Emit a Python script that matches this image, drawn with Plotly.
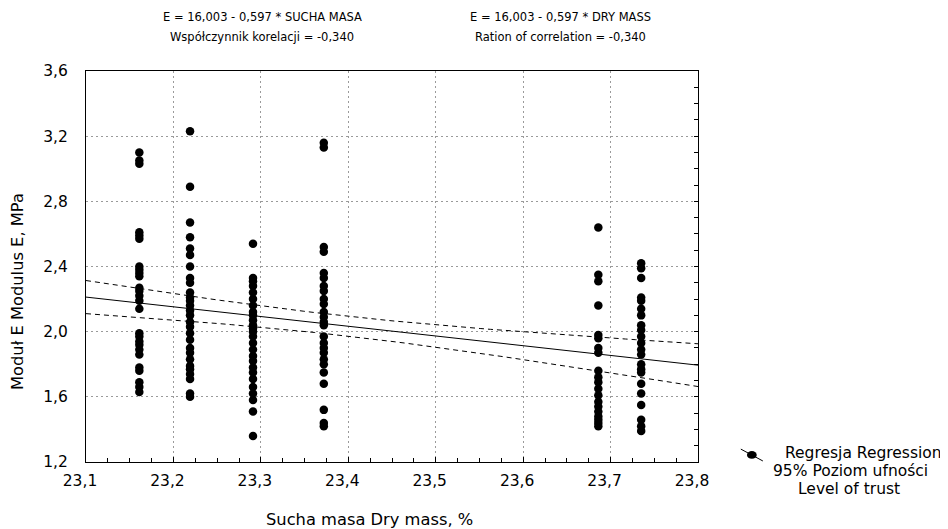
import numpy as np
import plotly.graph_objects as go

# Dry mass levels (%) and measured modulus E (MPa) at each level
dry_mass_levels = [23.161, 23.219, 23.291, 23.372, 23.686, 23.735]

e_col1 = [3.10, 3.05, 3.03, 2.61, 2.59, 2.57, 2.40, 2.38, 2.36, 2.34, 2.27, 2.25, 2.22,
          2.19, 2.14, 1.99, 1.97, 1.94, 1.92, 1.89, 1.86, 1.78, 1.76, 1.69, 1.66, 1.63]
e_col2 = [3.23, 2.89, 2.67, 2.58, 2.51, 2.47, 2.40, 2.33, 2.30, 2.24, 2.21, 2.19, 2.16,
          2.13, 2.10, 2.06, 2.03, 1.99, 1.95, 1.90, 1.87, 1.83, 1.79, 1.77, 1.74, 1.71,
          1.62, 1.60]
e_col3 = [2.54, 2.33, 2.31, 2.28, 2.24, 2.20, 2.16, 2.12, 2.10, 2.07, 2.04, 2.02, 2.00,
          1.97, 1.93, 1.89, 1.85, 1.82, 1.78, 1.75, 1.71, 1.66, 1.62, 1.58, 1.51, 1.36]
e_col4 = [3.16, 3.13, 2.52, 2.49, 2.36, 2.33, 2.28, 2.25, 2.20, 2.17, 2.12, 2.09, 2.06,
          2.04, 1.97, 1.93, 1.90, 1.87, 1.83, 1.80, 1.75, 1.68, 1.52, 1.44, 1.42]
e_col5 = [2.64, 2.35, 2.31, 2.16, 1.98, 1.96, 1.90, 1.87, 1.76, 1.72, 1.69, 1.65, 1.61,
          1.57, 1.54, 1.51, 1.48, 1.46, 1.44, 1.42]
e_col6 = [2.42, 2.39, 2.33, 2.21, 2.19, 2.14, 2.10, 2.04, 2.01, 1.97, 1.93, 1.89, 1.86,
          1.80, 1.77, 1.75, 1.68, 1.62, 1.55, 1.46, 1.42, 1.39]

# Regression from the chart header
intercept = 16.003
slope = -0.597
t_95 = 1.975

x_range = [23.1, 23.8]
y_range = [1.2, 3.6]
x_ticks = [23.1, 23.2, 23.3, 23.4, 23.5, 23.6, 23.7, 23.8]
y_ticks = [1.2, 1.6, 2.0, 2.4, 2.8, 3.2, 3.6]

header_pl = ["E = 16,003 - 0,597 * SUCHA MASA", "Współczynnik korelacji = -0,340"]
header_en = ["E = 16,003 - 0,597 * DRY MASS", "Ration of correlation = -0,340"]
legend_lines = ["Regresja Regression", "95% Poziom ufności", "Level of trust"]

columns = [e_col1, e_col2, e_col3, e_col4, e_col5, e_col6]
xs, ys = [], []
for xv, col in zip(dry_mass_levels, columns):
    xs += [xv] * len(col)
    ys += col
xs = np.array(xs)
ys = np.array(ys)

# Regression line and 95% confidence band
xl = np.linspace(x_range[0], x_range[1], 60)
yl = intercept + slope * xl
n = len(xs)
resid = ys - (intercept + slope * xs)
s = np.sqrt(np.sum(resid ** 2) / (n - 2))
xbar = xs.mean()
sxx = np.sum((xs - xbar) ** 2)
half = t_95 * s * np.sqrt(1.0 / n + (xl - xbar) ** 2 / sxx)

FAM = "DejaVu Sans, Liberation Sans, Arial, sans-serif"
tick_font = dict(family=FAM, size=15.5, color="black")
title_font = dict(family=FAM, size=16.3, color="black")
head_font = dict(family=FAM, size=11.5, color="black")
leg_font = dict(family=FAM, size=15.5, color="black")

fig = go.Figure()
fig.add_trace(go.Scatter(x=xs, y=ys, mode="markers",
                         marker=dict(color="black", size=8.5), showlegend=False))
fig.add_trace(go.Scatter(x=xl, y=yl, mode="lines",
                         line=dict(color="black", width=1), showlegend=False))
fig.add_trace(go.Scatter(x=xl, y=yl + half, mode="lines",
                         line=dict(color="black", width=1, dash="5px,4px"), showlegend=False))
fig.add_trace(go.Scatter(x=xl, y=yl - half, mode="lines",
                         line=dict(color="black", width=1, dash="5px,4px"), showlegend=False))
# helper trace for right-side tick axis
fig.add_trace(go.Scatter(x=[None], y=[None], yaxis="y2", showlegend=False, hoverinfo="skip"))

grid = dict(showgrid=True, gridcolor="#9a9a9a", griddash="2px,3px", gridwidth=1)

fig.update_layout(
    width=940, height=521,
    paper_bgcolor="white", plot_bgcolor="white",
    margin=dict(l=78, r=250, t=63, b=67, autoexpand=False),
    font=tick_font,
    separators=", ",
    xaxis=dict(range=x_range, tickvals=x_ticks, tickformat=".1f",
               showline=True, linecolor="black", linewidth=1, mirror=True,
               ticks="inside", ticklen=5, tickcolor="black",
               minor=dict(dtick=0.025, ticks="inside", ticklen=4, tickcolor="black", showgrid=False),
               zeroline=False, tickfont=tick_font, ticklabelstandoff=4, ticklabelshift=-6,
               layer="below traces", **grid),
    yaxis=dict(range=y_range, tickvals=y_ticks, tickformat=".1f",
               showline=True, linecolor="black", linewidth=1, mirror=True,
               ticks="", zeroline=False, tickfont=tick_font, ticklabelstandoff=14,
               layer="below traces", **grid),
    yaxis2=dict(range=y_range, overlaying="y", side="right", showticklabels=False,
                showgrid=False, zeroline=False, showline=False,
                tick0=1.2, dtick=0.1, ticks="inside", ticklen=4, tickcolor="black"),
)

# Axis titles
fig.add_annotation(x=0.464, y=-0.148, xref="paper", yref="paper", xanchor="center",
                   yanchor="middle", showarrow=False, font=title_font,
                   text="Sucha masa Dry mass, %")
fig.add_annotation(x=-0.111, y=0.435, xref="paper", yref="paper", xanchor="center",
                   yanchor="middle", showarrow=False, font=title_font, textangle=-90,
                   text="Moduł E Modulus E, MPa")

# Header texts
for i, ty in enumerate([1.138, 1.087]):
    fig.add_annotation(x=0.2876, y=ty, xref="paper", yref="paper", xanchor="center",
                       yanchor="middle", showarrow=False, font=head_font, text=header_pl[i])
    fig.add_annotation(x=0.776, y=ty, xref="paper", yref="paper", xanchor="center",
                       yanchor="middle", showarrow=False, font=head_font, text=header_en[i])

# Legend (outside plot, bottom right)
fig.add_shape(type="line", xref="paper", yref="paper",
              x0=1.070, y0=0.033, x1=1.106, y1=0.0026,
              line=dict(color="black", width=1))
fig.add_shape(type="circle", xref="paper", yref="paper",
              x0=1.080, y0=0.008, x1=1.096, y1=0.028,
              fillcolor="black", line=dict(color="black", width=0))
fig.add_annotation(x=1.139, y=0.023, xref="paper", yref="paper", xanchor="left",
                   yanchor="middle", showarrow=False, font=leg_font, text=legend_lines[0])
fig.add_annotation(x=1.119, y=-0.023, xref="paper", yref="paper", xanchor="left",
                   yanchor="middle", showarrow=False, font=leg_font, text=legend_lines[1])
fig.add_annotation(x=1.160, y=-0.069, xref="paper", yref="paper", xanchor="left",
                   yanchor="middle", showarrow=False, font=leg_font, text=legend_lines[2])

fig.write_html("out.html")
